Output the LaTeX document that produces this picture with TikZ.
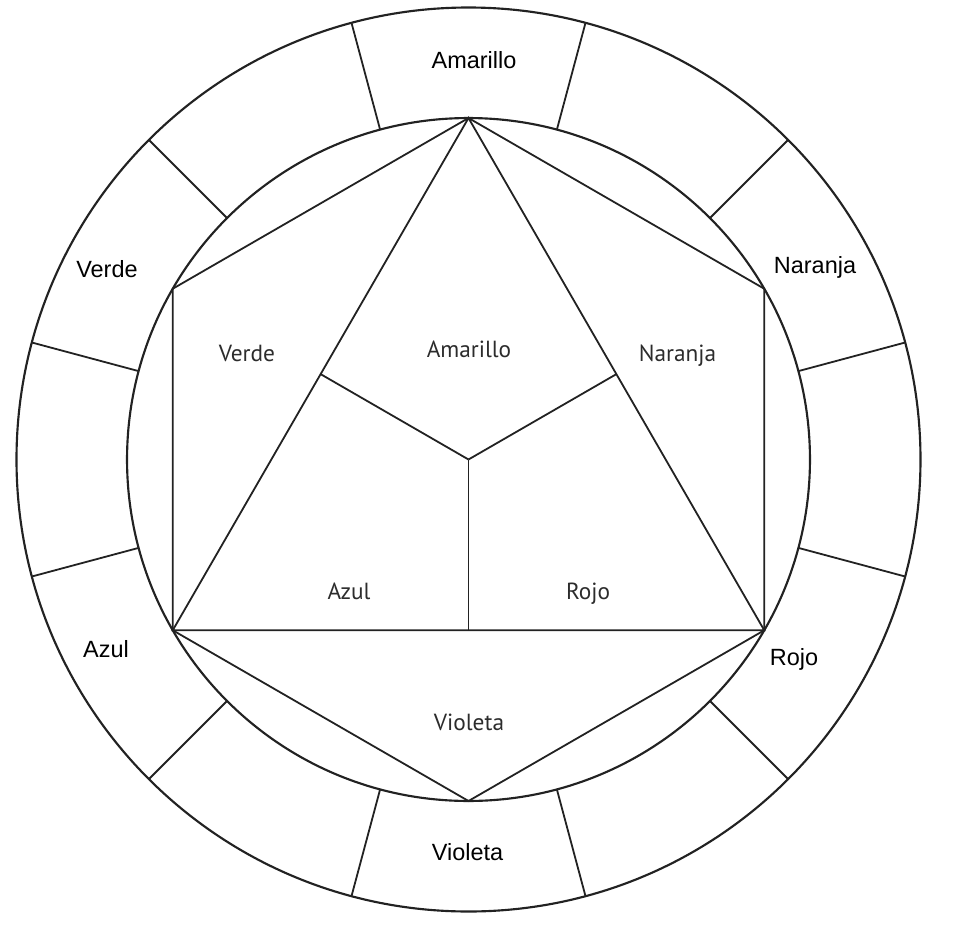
\documentclass[tikz,border=0pt]{standalone}
\usepackage{fontspec}
\setmainfont{Liberation Sans}
\newfontfamily\innerfont{PT Sans}
\usetikzlibrary{calc}
\definecolor{linecol}{HTML}{222222}
\definecolor{innertext}{HTML}{2C2C2C}
\tikzset{
  ring/.style={draw=linecol, line width=1.6pt},
  edge/.style={draw=linecol, line width=1.35pt},
  outerlabel/.style={anchor=base, inner sep=0pt, font=\fontsize{17.6pt}{20pt}\selectfont, text=black},
  innerlabel/.style={anchor=base, inner sep=0pt, font=\innerfont\fontsize{17.5pt}{20pt}\selectfont, text=innertext}
}
\begin{document}
\begin{tikzpicture}[x=0.75pt, y=-0.75pt]
\useasboundingbox (0,0) rectangle (957,932);
\coordinate (C) at (468.5,459.5);
% circles
\draw[ring] (C) circle[radius=339pt];
\draw[ring] (C) circle[radius=256.1pt];
% ring dividers
\foreach \a [count=\i] in {15,45,...,345} {
  \coordinate (di\i) at ($(C)+(\a:341.5)$);
  \coordinate (do\i) at ($(C)+(\a:452)$);
  \draw[edge] (di\i) -- (do\i);
}
% hexagon vertices (angles negated: y axis points down)
\coordinate (T)  at ($(C)+(-90:341.5)$);
\coordinate (UR) at ($(C)+(-30:341.5)$);
\coordinate (BR) at ($(C)+(30:341.5)$);
\coordinate (B)  at ($(C)+(90:341.5)$);
\coordinate (BL) at ($(C)+(150:341.5)$);
\coordinate (UL) at ($(C)+(210:341.5)$);
\coordinate (M1) at ($(T)!0.5!(BL)$);
\coordinate (M2) at ($(T)!0.5!(BR)$);
\coordinate (M3) at ($(BL)!0.5!(BR)$);
% hexagon
\draw[edge, line join=miter] (T) -- (UR) -- (BR) -- (B) -- (BL) -- (UL) -- cycle;
% triangle
\draw[edge, line join=miter] (T) -- (BR) -- (BL) -- cycle;
% inner Y
\draw[edge] (C) -- (M1);
\draw[edge] (C) -- (M2);
\draw[edge] (C) -- (M3);
% outer labels
\node[outerlabel] (oAmarillo) at (474,68) {Amarillo};
\node[outerlabel] (oNaranja) at (815,273) {Naranja};
\node[outerlabel] (oVerde) at (107,277) {Verde};
\node[outerlabel] (oAzul) at (106,657) {Azul};
\node[outerlabel] (oRojo) at (794,665) {Rojo};
\node[outerlabel] (oVioleta) at (467.5,860) {Violeta};
% inner labels
\node[innerlabel] (iVerde) at (247,361) {Verde};
\node[innerlabel] (iAmarillo) at (469,357) {Amarillo};
\node[innerlabel] (iNaranja) at (677.5,361) {Naranja};
\node[innerlabel] (iAzul) at (349,599) {Azul};
\node[innerlabel] (iRojo) at (588,599) {Rojo};
\node[innerlabel] (iVioleta) at (469,730) {Violeta};
\end{tikzpicture}
\end{document}
